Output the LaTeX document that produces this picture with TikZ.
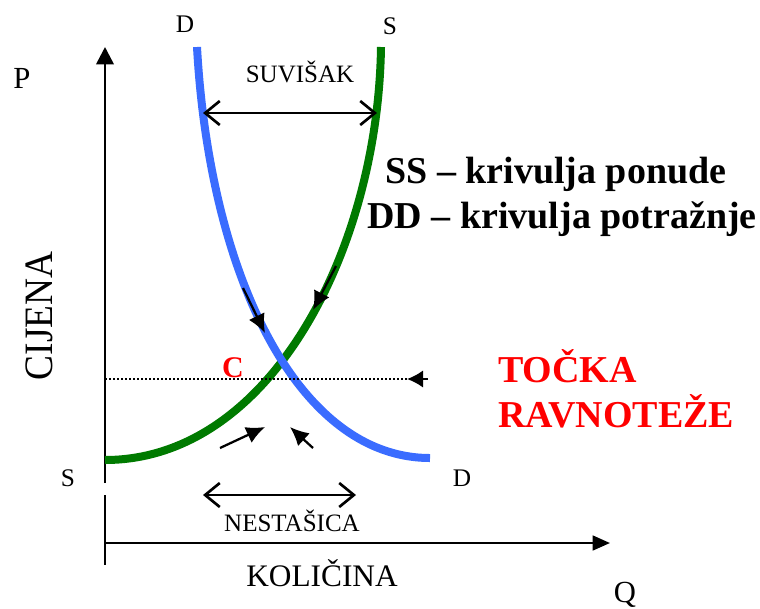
\documentclass[tikz,border=0pt]{standalone}
\usepackage{fontspec}
\setmainfont{Liberation Serif}
\usetikzlibrary{arrows.meta}
\definecolor{dblue}{RGB}{58,108,255}
\definecolor{sgreen}{RGB}{0,122,0}
\definecolor{tred}{RGB}{255,0,0}
\newcommand{\fpx}[1]{\fontsize{#1}{#1}\selectfont}
\tikzset{
  lbl/.style={inner sep=0pt, anchor=base},
  axis/.style={line width=2pt},
  curve/.style={line width=6pt},
  dirarrow/.style={line width=1.7pt, -{Latex[length=14pt,width=13pt]}},
  gaparrow/.style={line width=2pt, {Straight Barb[length=11pt,width=18pt,line width=2pt]}-{Straight Barb[length=11pt,width=18pt,line width=2pt]}},
}
\begin{document}
\begin{tikzpicture}[x=0.75pt,y=-0.75pt]
\useasboundingbox (0,0) rectangle (760,608);
% coordinates
\coordinate (yb) at (105,483);
\coordinate (yt) at (105,47);
\coordinate (sb) at (105,495);
\coordinate (se) at (105,565);
\coordinate (xo) at (105,543);
\coordinate (xe) at (610,543);
\coordinate (dt) at (197,47);
\coordinate (de) at (430,458);
\coordinate (ss) at (105,460);
\coordinate (st) at (381,47);
% axes
\draw[axis,-{Triangle[length=13pt,width=13pt]}] (yb) -- (yt);
\draw[axis] (sb) -- (se);
\draw[axis,-{Triangle[length=13pt,width=11pt]}] (xo) -- (xe);
% curves
\draw[curve,sgreen] (ss) .. controls (270,460) and (378,250) .. (st);
\draw[curve,dblue] (dt) .. controls (210,280) and (300,458) .. (de);
% dotted line with arrow
\coordinate (dl) at (105,379);
\coordinate (dr) at (407,379);
\coordinate (dtail) at (428,379);
\draw[line width=1.2pt, dash pattern=on 1.2pt off 1.8pt] (dl) -- (dr);
\draw[line width=1.5pt, -{Latex[length=12pt,width=13pt]}] (dtail) -- (dr);
% direction arrows
\coordinate (a1s) at (243,288); \coordinate (a1e) at (265,333);
\coordinate (a2s) at (336,266); \coordinate (a2e) at (313,310);
\coordinate (a3s) at (220,448); \coordinate (a3e) at (265,427);
\coordinate (a4s) at (313,448); \coordinate (a4e) at (290,427);
\draw[dirarrow] (a1s) -- (a1e);
\draw[dirarrow] (a2s) -- (a2e);
\draw[dirarrow] (a3s) -- (a3e);
\draw[dirarrow] (a4s) -- (a4e);
% gap arrows
\coordinate (sl) at (203,113); \coordinate (sr) at (377,113);
\coordinate (nl) at (203,495); \coordinate (nr) at (356,495);
\draw[gaparrow] (sl) -- (sr);
\draw[gaparrow] (nl) -- (nr);
% labels
\node[lbl] (lD1) at (185,32) {\fpx{19pt}D};
\node[lbl] (lS1) at (390,34) {\fpx{19pt}S};
\node[lbl] (lP) at (22,88) {\fpx{23pt}P};
\node[lbl] (lS2) at (68,486) {\fpx{19pt}S};
\node[lbl] (lD2) at (462,486) {\fpx{19pt}D};
\node[lbl] (lQ) at (625,602) {\fpx{23pt}Q};
\node[lbl] (lsuv) at (300,82) {\fpx{18.75pt}SUVIŠAK};
\node[lbl] (lnes) at (292,531) {\fpx{18.75pt}NESTAŠICA};
\node[lbl] (lkol) at (322,586) {\fpx{23.5pt}KOLIČINA};
\node[lbl, rotate=90, yscale=1.08] (lcij) at (52,316) {\fpx{28pt}CIJENA};
\node[lbl, text=tred] (lC) at (233,377) {\fpx{22.5pt}\bfseries C};
\node[inner sep=0pt, anchor=base west] (lss) at (385,183) {\fpx{28.5pt}\bfseries SS – krivulja ponude};
\node[inner sep=0pt, anchor=base east] (ldd) at (757,228) {\fpx{28.5pt}\bfseries DD – krivulja potražnje};
\node[inner sep=0pt, anchor=base west, text=tred] (lt1) at (498,382) {\fpx{28.5pt}\bfseries TOČKA};
\node[inner sep=0pt, anchor=base west, text=tred] (lt2) at (498,427) {\fpx{28.5pt}\bfseries RAVNOTEŽE};
\end{tikzpicture}
\end{document}
